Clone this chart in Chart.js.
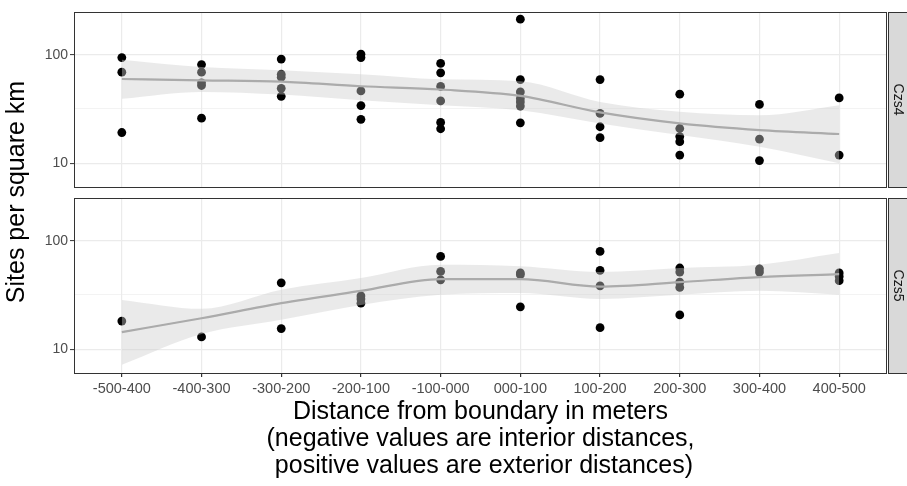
<!DOCTYPE html>
<html>
<head>
<meta charset="utf-8">
<script src="https://cdn.jsdelivr.net/npm/chart.js@4.4.1/dist/chart.umd.min.js"></script>
<style>
  body { margin: 0; background: #fff; }
  #wrap { position: relative; width: 907px; height: 486px; }
  #wrap canvas { position: absolute; left: 0; top: 0; }
</style>
</head>
<body>
<div id="wrap">
  <canvas id="top" width="907" height="486"></canvas>
  <canvas id="bottom" width="907" height="486"></canvas>
</div>
<script>
// categories (distance bins)
var cats = ['-500-400', '-400-300', '-300-200', '-200-100', '-100-000',
            '000-100', '100-200', '200-300', '300-400', '400-500'];

// Czs4 panel: observed sites per km2 in each bin, smooth fit and ribbon
var czs4Points = [
  [94, 69, 19.2],
  [81, 69, 55, 52, 26],
  [91, 66, 62, 49, 41.4],
  [101, 94, 46.4, 34, 25.4],
  [83, 68, 51, 37.5, 23.8, 20.8],
  [212, 59, 45.4, 39.5, 36.7, 33.6, 23.6],
  [59, 28.8, 21.7, 17.2],
  [43.3, 20.9, 17.6, 15.8, 11.9],
  [34.8, 16.7, 10.6],
  [40, 11.9]
];
var czs4Fit = [59.7, 58.1, 56.5, 51.2, 47.8, 41.7, 29.4, 23.3, 20.2, 18.6];
var czs4Upper = [90, 76.9, 71.8, 65.9, 59.3, 56.9, 36.7, 29.8, 27.7, 34.3];
var czs4Lower = [39.2, 45.4, 42.9, 38.1, 34.3, 30.8, 23.3, 18.2, 14.2, 10];

// Czs5 panel
var czs5Points = [
  [18.2],
  [13.0],
  [40.9, 15.5],
  [31, 29.1, 26.6],
  [71.6, 52.1, 43.6],
  [50.4, 48.6, 24.6],
  [79.6, 53.2, 38.4, 15.8],
  [56, 51.4, 41.5, 37.1, 20.7],
  [55.1, 51.4],
  [50.4, 46.8, 42.8]
];
var czs5Fit = [14.4, 19.3, 26.6, 34.5, 44.3, 44.3, 37.8, 41.5, 46.2, 49.2];
var czs5Upper = [28.5, 23.6, 35.3, 45.3, 60, 58, 51.4, 56, 60, 76.9];
var czs5Lower = [7.2, 13.8, 18.7, 25.6, 31.7, 32.9, 29, 31.7, 34.5, 31.7];

var yTicks = [10, 100];
var yMinor = [31.62];

var FONT = "'Liberation Sans', Arial, Helvetica, sans-serif";
var PANEL_LEFT = 74, PANEL_RIGHT = 887;

function toXY(vals) {
  return vals.map(function (v, i) { return {x: i + 1, y: v}; });
}

function flatPoints(groups) {
  var out = [];
  groups.forEach(function (g, i) {
    g.forEach(function (v) { out.push({x: i + 1, y: v}); });
  });
  return out;
}

function buildDatasets(points, fit, upper, lower) {
  return [{
    type: 'line', data: toXY(upper), borderWidth: 0, pointRadius: 0,
    fill: false, cubicInterpolationMode: 'monotone', order: 2
  }, {
    type: 'line', data: toXY(lower), borderWidth: 0, pointRadius: 0,
    fill: '-1', backgroundColor: 'rgba(204,204,204,0.42)',
    cubicInterpolationMode: 'monotone', order: 2
  }, {
    type: 'line', data: toXY(fit), borderColor: '#ababab', borderWidth: 2.2,
    pointRadius: 0, fill: false, cubicInterpolationMode: 'monotone', order: 1
  }, {
    type: 'scatter', data: flatPoints(points), backgroundColor: '#000',
    borderWidth: 0, pointRadius: 4.4, order: 3
  }];
}

// panel border + facet strip on the right
function panelPlugin(label) {
  return {
    id: 'panel',
    afterDraw: function (chart) {
      var a = chart.chartArea, ctx = chart.ctx;
      ctx.save();
      ctx.strokeStyle = '#333333';
      ctx.lineWidth = 1;
      ctx.strokeRect(a.left + 0.5, a.top + 0.5, a.right - a.left - 1, a.bottom - a.top);
      ctx.fillStyle = '#d9d9d9';
      ctx.fillRect(a.right + 1, a.top, chart.width - a.right, a.bottom - a.top + 1);
      ctx.strokeRect(a.right + 1.5, a.top + 0.5, chart.width - a.right + 2, a.bottom - a.top);
      ctx.translate(a.right + 11, (a.top + a.bottom) / 2);
      ctx.rotate(Math.PI / 2);
      ctx.fillStyle = '#1a1a1a';
      ctx.font = '14px ' + FONT;
      ctx.textAlign = 'center';
      ctx.textBaseline = 'middle';
      ctx.fillText(label, 0, 0);
      ctx.restore();
    }
  };
}

var yTitlePlugin = {
  id: 'ytitle',
  afterDraw: function (chart) {
    var ctx = chart.ctx;
    ctx.save();
    ctx.translate(17, 192);
    ctx.rotate(-Math.PI / 2);
    ctx.fillStyle = '#000';
    ctx.font = '25px ' + FONT;
    ctx.textAlign = 'center';
    ctx.textBaseline = 'middle';
    ctx.fillText('Sites per square km', 0, 0);
    ctx.restore();
  }
};

function yScale() {
  return {
    type: 'logarithmic', min: 6.05, max: 247,
    afterBuildTicks: function (s) {
      s.ticks = yTicks.concat(yMinor).map(function (v) { return {value: v}; });
    },
    afterFit: function (s) { s.width = PANEL_LEFT; },
    ticks: {
      color: '#4d4d4d', font: {size: 14, family: FONT}, padding: 2,
      callback: function (v) { return yTicks.indexOf(v) >= 0 ? String(v) : ''; }
    },
    grid: {
      color: '#ebebeb',
      lineWidth: function (c) { return yMinor.indexOf(c.tick && c.tick.value) >= 0 ? 0.6 : 1.2; },
      tickLength: 4, tickWidth: 1,
      tickColor: function (c) { return yMinor.indexOf(c.tick && c.tick.value) >= 0 ? 'rgba(0,0,0,0)' : '#333333'; }
    },
    border: {display: false}
  };
}

function xScale(showLabels) {
  var sc = {
    type: 'linear', min: 0.4, max: 10.6,
    afterBuildTicks: function (s) {
      s.ticks = cats.map(function (c, i) { return {value: i + 1}; });
    },
    ticks: {
      display: showLabels, color: '#4d4d4d', font: {size: 14.5, family: FONT},
      padding: 3, maxRotation: 0, autoSkip: false,
      callback: function (v) { return cats[v - 1]; }
    },
    grid: {color: '#ebebeb', lineWidth: 1.2, drawTicks: showLabels, tickLength: 4, tickColor: '#333333'},
    border: {display: false}
  };
  if (showLabels) {
    sc.afterFit = function (s) { s.height = 113; };
    sc.title = {
      display: true,
      text: ['Distance from boundary in meters',
             '(negative values are interior distances,',
             ' positive values are exterior distances)'],
      color: '#000', font: {size: 25, family: FONT, lineHeight: 1.08},
      padding: {top: 0, bottom: 6.5}
    };
  } else {
    sc.afterFit = function (s) { s.height = 0; };
  }
  return sc;
}

function makeChart(id, datasets, padding, showX, plugins) {
  return new Chart(document.getElementById(id), {
    type: 'scatter',
    data: {datasets: datasets},
    options: {
      responsive: false, animation: false, devicePixelRatio: 1,
      layout: {padding: padding},
      plugins: {legend: {display: false}, tooltip: {enabled: false}},
      scales: {x: xScale(showX), y: yScale()}
    },
    plugins: plugins
  });
}

makeChart('top', buildDatasets(czs4Points, czs4Fit, czs4Upper, czs4Lower),
  {top: 12, bottom: 299, left: 0, right: 907 - PANEL_RIGHT}, false, [panelPlugin('Czs4')]);
makeChart('bottom', buildDatasets(czs5Points, czs5Fit, czs5Upper, czs5Lower),
  {top: 198, bottom: 0, left: 0, right: 907 - PANEL_RIGHT}, true, [panelPlugin('Czs5'), yTitlePlugin]);
</script>
</body>
</html>
